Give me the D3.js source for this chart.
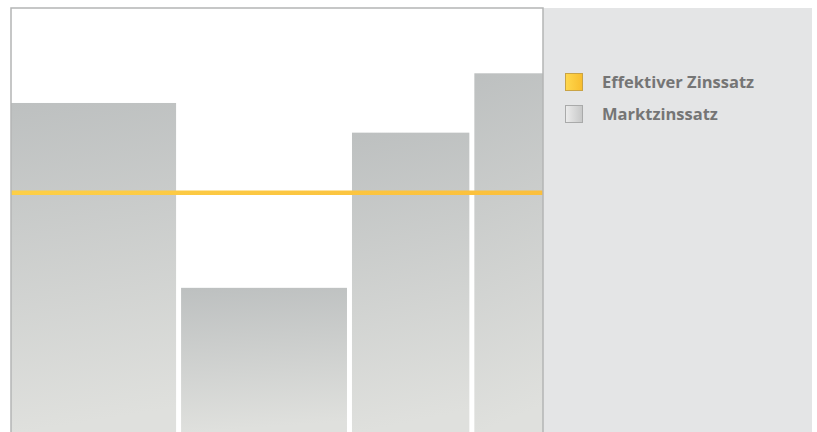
<!DOCTYPE html>
<html>
<head>
<meta charset="utf-8">
<script src="https://cdn.jsdelivr.net/npm/d3@7"></script>
<style>
  html, body { margin: 0; padding: 0; background: #fff; }
  svg { display: block; }
</style>
</head>
<body>
<svg id="chart"></svg>
<script>
// periods (years) and market rates (%)
const periodStart = [0, 5.04, 10.18, 13.86]
const periodEnd = [5.04, 10.18, 13.86, 16]
const marktzins = [3.88, 1.70, 3.53, 4.23]
const effektivZins = 2.82
const legendLabels = ["Effektiver Zinssatz", "Marktzinssatz"]

const W = 817, H = 432
const LEFT = 11, TOP = 8, PLOT_RIGHT = 543, PANEL_RIGHT = 812
const GAP = 5

const svg = d3.select("#chart").attr("width", W).attr("height", H)
const defs = svg.append("defs")

// bar gradient
let g = defs.append("linearGradient").attr("id", "barGrad")
    .attr("x1", 0).attr("y1", 0).attr("x2", 0.08).attr("y2", 1)
g.append("stop").attr("offset", 0).attr("stop-color", "#bdc0c0")
g.append("stop").attr("offset", 1).attr("stop-color", "#dfe0dd")

let gy = defs.append("linearGradient").attr("id", "yelGrad")
    .attr("x1", 0).attr("y1", 0).attr("x2", 1).attr("y2", 0)
gy.append("stop").attr("offset", 0).attr("stop-color", "#ffd84e")
gy.append("stop").attr("offset", 1).attr("stop-color", "#f8bd2e")

let gg = defs.append("linearGradient").attr("id", "greyGrad")
    .attr("x1", 0).attr("y1", 0).attr("x2", 1).attr("y2", 0)
gg.append("stop").attr("offset", 0).attr("stop-color", "#ececec")
gg.append("stop").attr("offset", 1).attr("stop-color", "#c6c7c7")

let gl = defs.append("linearGradient").attr("id", "lineGrad")
    .attr("gradientUnits", "userSpaceOnUse")
    .attr("x1", LEFT).attr("y1", 0).attr("x2", PLOT_RIGHT).attr("y2", 0)
gl.append("stop").attr("offset", 0).attr("stop-color", "#fdcf47")
gl.append("stop").attr("offset", 1).attr("stop-color", "#fbbf3c")

// scales
const xs = d3.scaleLinear().domain([0, 16]).range([LEFT, PLOT_RIGHT])
const ys = d3.scaleLinear().domain([0, 5]).range([H, H - 5 * 84.8])

// right panel
svg.append("rect")
    .attr("x", PLOT_RIGHT).attr("y", TOP)
    .attr("width", PANEL_RIGHT - PLOT_RIGHT).attr("height", H - TOP)
    .style("fill", "#e4e5e6")

// bars
const bars = marktzins.map((v, i) => ({ v, i }))
svg.selectAll(".bar").data(bars).enter()
    .append("rect")
    .attr("class", "bar")
    .attr("x", d => xs(periodStart[d.i]) + (d.i > 0 ? GAP / 2 : 0))
    .attr("width", d => xs(periodEnd[d.i]) - xs(periodStart[d.i])
        - (d.i > 0 ? GAP / 2 : 0) - (d.i < bars.length - 1 ? GAP / 2 : 0))
    .attr("y", d => ys(d.v))
    .attr("height", d => H - ys(d.v))
    .style("fill", "url(#barGrad)")

// effective rate line
svg.append("line")
    .attr("x1", xs(0)).attr("x2", xs(16))
    .attr("y1", ys(effektivZins)).attr("y2", ys(effektivZins))
    .style("stroke", "url(#lineGrad)")
    .style("stroke-width", 4.5)

// plot frame (left, top, right)
svg.append("path")
    .attr("d", `M${LEFT},${H} V${TOP} H${PLOT_RIGHT} V${H}`)
    .style("fill", "none")
    .style("stroke", "#b4b5b5")
    .style("stroke-width", 1.5)

// legend
const legend = svg.append("g").attr("transform", "translate(565,73)")
const fills = ["url(#yelGrad)", "url(#greyGrad)"]
const strokes = ["#c9a345", "#a9aaaa"]
legendLabels.forEach((t, i) => {
    legend.append("rect")
        .attr("x", 0.5).attr("y", i * 32 + 0.5)
        .attr("width", 17).attr("height", 17)
        .style("fill", fills[i])
        .style("stroke", strokes[i])
        .style("stroke-width", 1)
    legend.append("text")
        .text(t)
        .attr("x", 37).attr("y", i * 32 + 15.3)
        .style("font-family", "'Open Sans', sans-serif")
        .style("font-weight", "bold")
        .style("font-size", "16.5px")
        .style("fill", "#757575")
})
</script>
</body>
</html>
